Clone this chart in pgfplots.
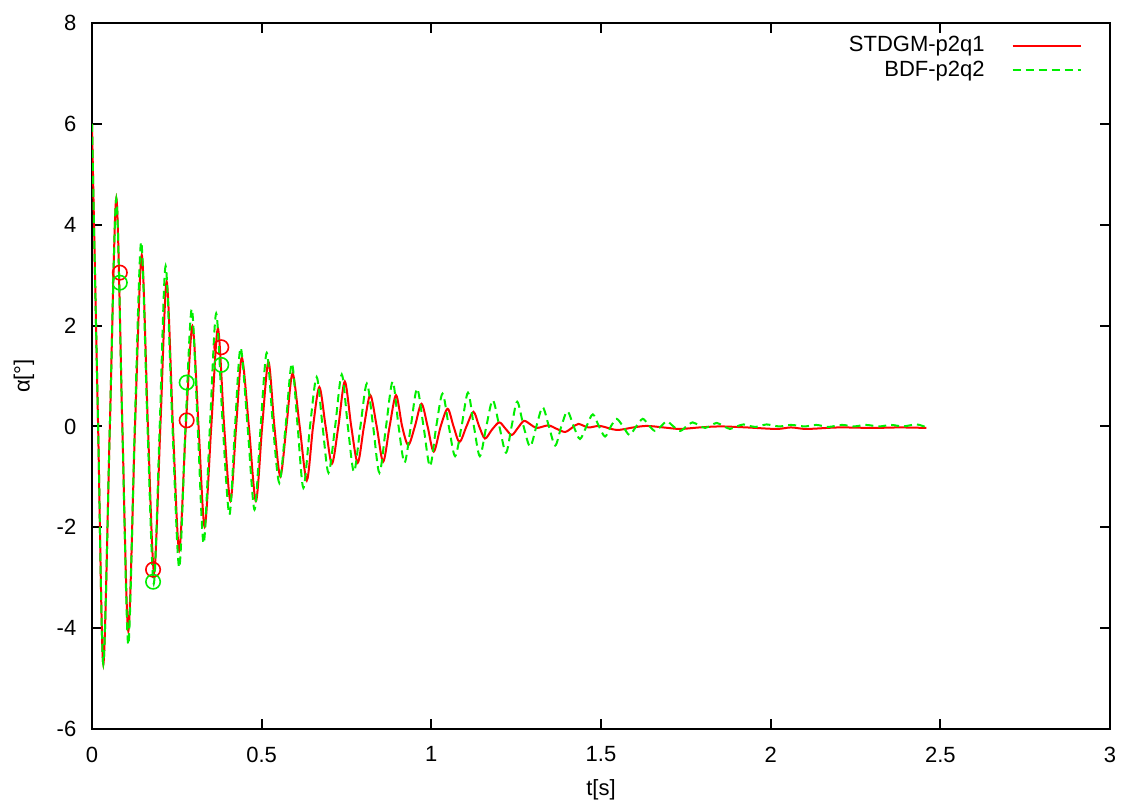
\documentclass[border=0pt]{standalone}
\usepackage{fontspec}
\setmainfont{Liberation Sans}
\usepackage{pgfplots}
\pgfplotsset{compat=1.18}
\definecolor{gpred}{RGB}{255,0,0}
\definecolor{gpgreen}{RGB}{0,238,0}
\begin{document}
\fontsize{11}{13}\selectfont
\begin{tikzpicture}
\begin{axis}[
  scale only axis, width=509pt, height=353pt,
  anchor=south west, at={(0pt,0pt)},
  xmin=0, xmax=3, ymin=-6, ymax=8,
  xtick={0,0.5,1,1.5,2,2.5,3},
  ytick={-6,-4,-2,0,2,4,6,8},
  tick align=inside, major tick length=5pt,
  axis line style={line width=1pt},
  every tick/.style={line width=1pt, black},
  /pgf/number format/assume math mode=true,
  tick label style={font=\fontsize{11}{13}\selectfont},
  xticklabel style={yshift=-5pt},
  yticklabel style={xshift=-4pt},
  xlabel={t[s]}, ylabel={α[°]},
  xlabel style={at={(axis description cs:0.5,-0.0864)}, anchor=center, font=\fontsize{11}{13}\selectfont},
  ylabel style={at={(axis description cs:-0.0668,0.5)}, anchor=center, font=\fontsize{11}{13}\selectfont},
  legend plot pos=right,
  legend cell align=right,
  legend image code/.code={\draw[draw=none] (0pt,0pt) -- (13pt,0pt); \draw[#1] (13pt,0pt) -- (47pt,0pt);},
  legend style={draw=none, fill=none, at={(rel axis cs:1,1)}, anchor=north east,
    xshift=-11pt, yshift=-3.5pt, font=\fontsize{11}{13}\selectfont,
    nodes={inner sep=1pt}, row sep=1pt},
  clip=true,
]
\addplot[gpred, line width=1pt, smooth] coordinates {
(0,6) (0.018,0) (0.0334,-4.71) (0.0526,0) (0.0717,4.52) (0.0894,0) (0.107,-4.06)
(0.1268,0) (0.1466,3.40) (0.1648,0) (0.183,-2.90) (0.2015,0) (0.220,2.87) (0.2385,0)
(0.257,-2.46) (0.2765,0) (0.296,1.99) (0.314,0) (0.332,-1.99) (0.3515,0) (0.371,1.94)
(0.3895,0) (0.408,-1.48) (0.4248,0) (0.4415,1.36) (0.4623,0) (0.483,-1.48) (0.5015,0)
(0.520,1.28) (0.5375,0) (0.555,-0.99) (0.573,0) (0.591,1.05) (0.612,0) (0.633,-1.07)
(0.6515,0) (0.670,0.78) (0.6885,0) (0.707,-0.74) (0.726,0) (0.745,0.89) (0.764,0)
(0.783,-0.72) (0.8015,0) (0.820,0.62) (0.839,0) (0.858,-0.70) (0.877,0) (0.896,0.62)
(0.914,0) (0.932,-0.37) (0.9515,0) (0.971,0.45) (0.989,0) (1.007,-0.50) (1.0275,0)
(1.048,0.35) (1.0655,0) (1.083,-0.31) (1.1035,0) (1.124,0.29) (1.141,0) (1.158,-0.24)
(1.178,-0.07) (1.200,0.08) (1.218,-0.04) (1.237,-0.17) (1.255,-0.03) (1.273,0.11)
(1.292,0.04) (1.311,-0.03) (1.345,0.02) (1.370,-0.05) (1.394,-0.11) (1.414,-0.03)
(1.433,0.05) (1.463,-0.02) (1.497,0.01) (1.546,-0.07) (1.595,-0.02) (1.635,0.01)
(1.684,-0.02) (1.733,-0.05) (1.79,-0.02) (1.851,0.0) (1.93,-0.02) (2.017,-0.05)
(2.06,-0.02) (2.106,-0.05) (2.2,-0.02) (2.3,-0.03) (2.38,-0.02) (2.459,-0.03)
};
\addlegendentry{STDGM-p2q1}
\addplot[gpgreen, line width=1pt, dash pattern=on 4pt off 2.5pt, smooth] coordinates {
(0,6) (0.018,0) (0.0334,-4.71) (0.0526,0) (0.0717,4.52) (0.0894,0) (0.107,-4.33)
(0.126,0) (0.145,3.66) (0.1635,0) (0.182,-3.12) (0.1995,0) (0.217,3.18) (0.237,0)
(0.257,-2.80) (0.2755,0) (0.294,2.33) (0.3115,0) (0.329,-2.32) (0.3475,0) (0.366,2.24)
(0.3855,0) (0.405,-1.75) (0.4215,0) (0.438,1.56) (0.4585,0) (0.479,-1.65) (0.497,0)
(0.515,1.46) (0.5335,0) (0.552,-1.12) (0.5705,0) (0.589,1.25) (0.606,0) (0.623,-1.22)
(0.6425,0) (0.662,0.98) (0.6795,0) (0.697,-0.92) (0.7165,0) (0.736,1.03) (0.754,0)
(0.772,-0.90) (0.791,0) (0.810,0.85) (0.8285,0) (0.847,-0.92) (0.8665,0) (0.886,0.89)
(0.9035,0) (0.921,-0.72) (0.9395,0) (0.958,0.75) (0.977,0) (0.996,-0.79) (1.0145,0)
(1.033,0.65) (1.0515,0) (1.070,-0.59) (1.089,0) (1.108,0.67) (1.1255,0) (1.143,-0.59)
(1.162,0) (1.181,0.52) (1.2005,0) (1.220,-0.52) (1.2365,0) (1.253,0.49) (1.272,0)
(1.291,-0.40) (1.3095,0) (1.328,0.38) (1.3465,0) (1.365,-0.38) (1.383,0) (1.401,0.30)
(1.4195,0) (1.438,-0.25) (1.457,0) (1.476,0.24) (1.494,0) (1.512,-0.20) (1.529,0)
(1.546,0.15) (1.565,0) (1.584,-0.17) (1.6035,0) (1.623,0.15) (1.641,0.02) (1.659,-0.09)
(1.6765,0) (1.694,0.10) (1.7135,0) (1.733,-0.09) (1.7515,0) (1.770,0.08) (1.7885,0.02)
(1.807,-0.03) (1.824,0.02) (1.841,0.07) (1.8605,0.01) (1.880,-0.05) (1.90,0)
(1.920,0.04) (1.9375,0.01) (1.955,-0.01) (1.9715,0.01) (1.988,0.04) (2.025,0.0)
(2.06,0.03) (2.10,0.0) (2.135,0.03) (2.17,-0.01) (2.21,0.03) (2.245,0.0) (2.28,0.03)
(2.32,0.0) (2.355,0.03) (2.39,0.0) (2.43,0.04) (2.459,-0.02)
};
\addlegendentry{BDF-p2q2}
\addplot[gpred, only marks, mark=o, mark size=3.6pt, mark options={line width=0.8pt}, forget plot]
coordinates {(0.082,3.05) (0.180,-2.84) (0.279,0.12) (0.381,1.57)};
\addplot[gpgreen, only marks, mark=o, mark size=3.6pt, mark options={line width=0.8pt}, forget plot]
coordinates {(0.082,2.85) (0.180,-3.08) (0.279,0.87) (0.381,1.22)};
\end{axis}
\pgfresetboundingbox
\path[use as bounding box] (-46pt,-38.5pt) rectangle (515pt,364.5pt);
\end{tikzpicture}
\end{document}
